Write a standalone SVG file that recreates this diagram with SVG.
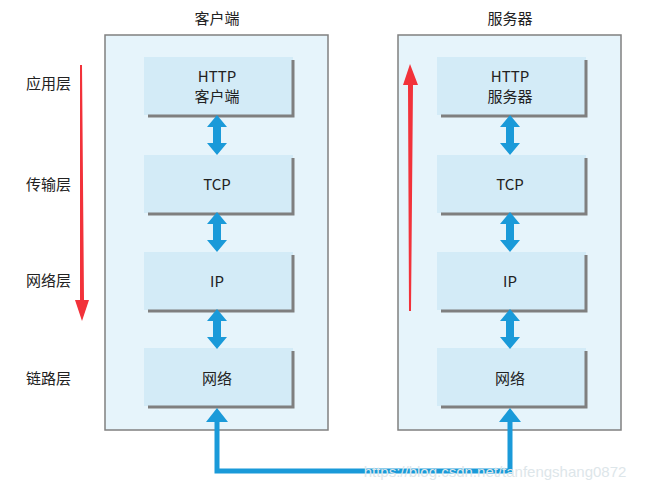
<svg xmlns="http://www.w3.org/2000/svg" width="650" height="487" viewBox="0 0 650 487">
<style>
.outer{fill:#e6f4fb;stroke:#808080;stroke-width:1.5}
.inner{fill:#d3ebf7}
.sh{fill:none;stroke:#7f7f7f;stroke-width:3}
text{font-family:"Noto Sans CJK SC","Liberation Sans",sans-serif;font-size:15px;fill:#222;text-anchor:middle}
.lbl{text-anchor:start}
</style>
<defs>
<g id="dbl"><polygon fill="#1a9ad9" points="0,-20 -10,-8 -4,-8 -4,8 -10,8 0,20 10,8 4,8 4,-8 10,-8"/></g>
</defs>
<rect width="650" height="487" fill="#fff"/>
<text x="217" y="24">客户端</text>
<text x="510" y="24">服务器</text>
<g id="labels">
<text class="lbl" x="26" y="89">应用层</text>
<text class="lbl" x="26" y="190">传输层</text>
<text class="lbl" x="26" y="286">网络层</text>
<text class="lbl" x="26" y="384">链路层</text>
</g>
<g id="client">
<rect class="outer" x="105" y="35" width="223" height="395"/>
</g>
<g id="server">
<rect class="outer" x="398" y="35" width="223" height="395"/>
</g>
<g id="c-http"><rect class="inner" x="144" y="57" width="149" height="58"/><path class="sh" d="M293,60V116H148"/><text x="217" y="82">HTTP</text><text x="217" y="102">客户端</text></g>
<g id="c-tcp"><rect class="inner" x="144" y="155" width="149" height="58"/><path class="sh" d="M293,158V214H148"/><text x="217" y="190">TCP</text></g>
<g id="c-ip"><rect class="inner" x="144" y="252" width="149" height="58"/><path class="sh" d="M293,255V311H148"/><text x="217" y="287">IP</text></g>
<g id="c-net"><rect class="inner" x="144" y="348" width="149" height="58"/><path class="sh" d="M293,351V407H148"/><text x="217" y="384">网络</text></g>
<g id="s-http"><rect class="inner" x="437" y="57" width="149" height="58"/><path class="sh" d="M586,60V116H441"/><text x="510" y="82">HTTP</text><text x="510" y="102">服务器</text></g>
<g id="s-tcp"><rect class="inner" x="437" y="155" width="149" height="58"/><path class="sh" d="M586,158V214H441"/><text x="510" y="190">TCP</text></g>
<g id="s-ip"><rect class="inner" x="437" y="252" width="149" height="58"/><path class="sh" d="M586,255V311H441"/><text x="510" y="287">IP</text></g>
<g id="s-net"><rect class="inner" x="437" y="348" width="149" height="58"/><path class="sh" d="M586,351V407H441"/><text x="510" y="384">网络</text></g>
<g id="connectors">
<use href="#dbl" x="217" y="135"/>
<use href="#dbl" x="217" y="232"/>
<use href="#dbl" x="217" y="329"/>
<use href="#dbl" x="510" y="135"/>
<use href="#dbl" x="510" y="232"/>
<use href="#dbl" x="510" y="329"/>
<path d="M217,420V471H510V420" fill="none" stroke="#1a9ad9" stroke-width="5"/>
<polygon fill="#1a9ad9" points="217,408 206,422 228,422"/>
<polygon fill="#1a9ad9" points="510,408 499,422 521,422"/>
<polygon fill="#f2323a" points="80,65 82,65 84,300 89,300 82,321 75,300 80,300"/>
<polygon fill="#f2323a" points="409,311 411,311 413,85 418,85 410,64 403,85 408,85"/>
</g>
<text x="495" y="477" style="fill:#dde6ea;font-family:'Liberation Sans',sans-serif;font-size:15px">https://blog.csdn.net/tanfengshang0872</text>
</svg>
